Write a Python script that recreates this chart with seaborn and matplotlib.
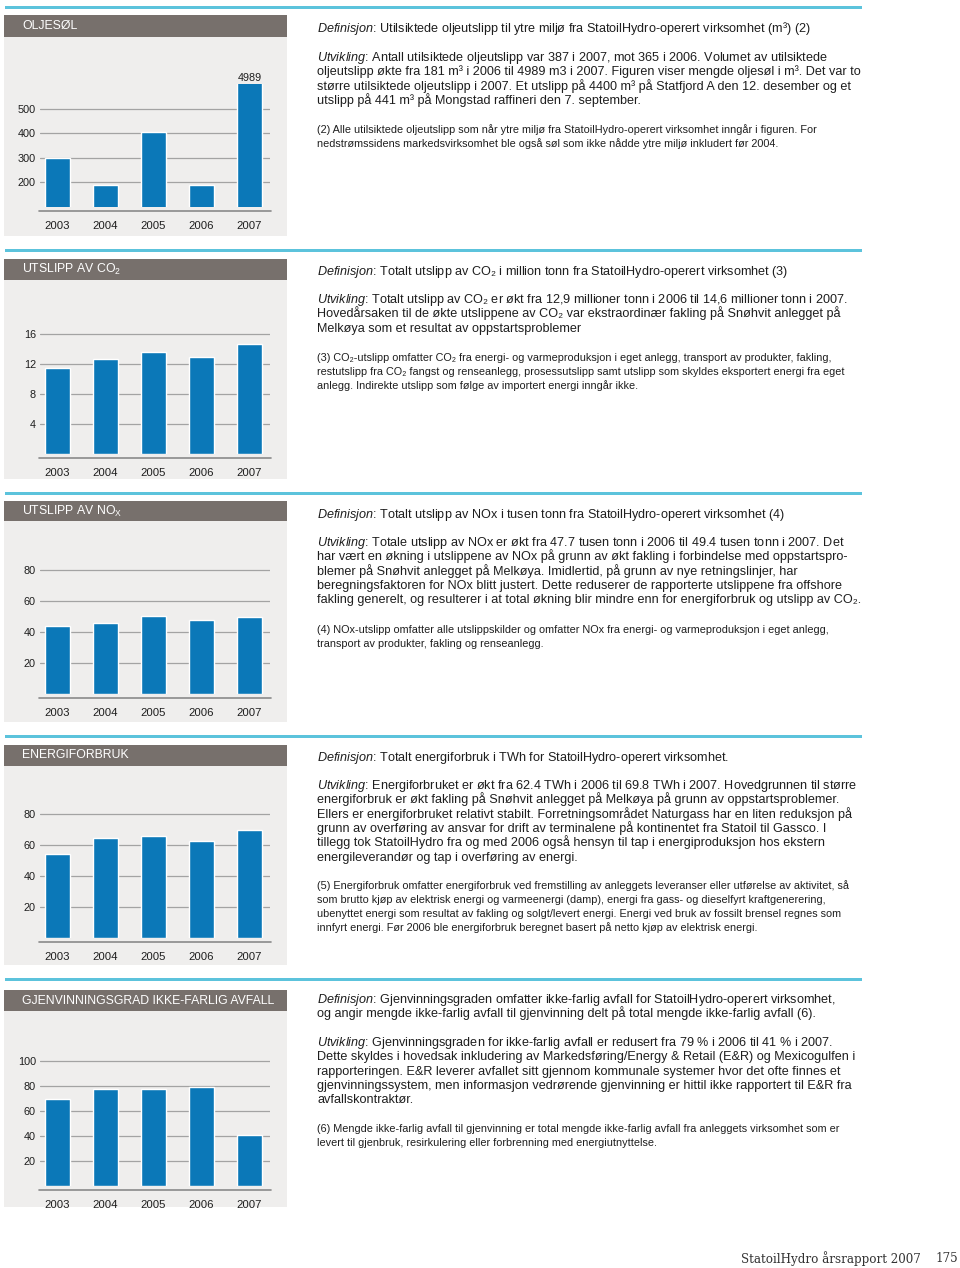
import matplotlib
matplotlib.use("Agg")
import matplotlib.pyplot as plt
from matplotlib.patches import Rectangle
from matplotlib.transforms import offset_copy
import seaborn as sns

# data
years = ["2003", "2004", "2005", "2006", "2007"]
oljesol = [300, 188, 403, 190, 4989]        # m3, 2007 is cut off at the top
co2 = [11.4, 12.6, 13.5, 12.9, 14.6]        # mill. tonn
nox = [44.0, 45.8, 50.3, 47.7, 49.4]        # tusen tonn
energi = [54.2, 64.5, 65.6, 62.4, 69.8]     # TWh
avfall = [69.5, 77.5, 77.5, 79.0, 41.0]     # %

titles = ["OLJESØL", "UTSLIPP AV CO$_2$", r"UTSLIPP AV NO$_\mathrm{X}$",
          "ENERGIFORBRUK", "GJENVINNINGSGRAD IKKE-FARLIG AVFALL"]

definisjon = [
    [r"$\mathit{Definisjon}$: Utilsiktede oljeutslipp til ytre miljø fra StatoilHydro-operert virksomhet (m³) (2)"],
    [r"$\mathit{Definisjon}$: Totalt utslipp av CO₂ i million tonn fra StatoilHydro-operert virksomhet (3)"],
    [r"$\mathit{Definisjon}$: Totalt utslipp av NOx i tusen tonn fra StatoilHydro-operert virksomhet (4)"],
    [r"$\mathit{Definisjon}$: Totalt energiforbruk i TWh for StatoilHydro-operert virksomhet."],
    [r"$\mathit{Definisjon}$: Gjenvinningsgraden omfatter ikke-farlig avfall for StatoilHydro-operert virksomhet,",
     "og angir mengde ikke-farlig avfall til gjenvinning delt på total mengde ikke-farlig avfall (6)."],
]

utvikling = [
    [r"$\mathit{Utvikling}$: Antall utilsiktede oljeutslipp var 387 i 2007, mot 365 i 2006. Volumet av utilsiktede",
     "oljeutslipp økte fra 181 m³ i 2006 til 4989 m3 i 2007. Figuren viser mengde oljesøl i m³. Det var to",
     "større utilsiktede oljeutslipp i 2007. Et utslipp på 4400 m³ på Statfjord A den 12. desember og et",
     "utslipp på 441 m³ på Mongstad raffineri den 7. september."],
    [r"$\mathit{Utvikling}$: Totalt utslipp av CO₂ er økt fra 12,9 millioner tonn i 2006 til 14,6 millioner tonn i 2007.",
     "Hovedårsaken til de økte utslippene av CO₂ var ekstraordinær fakling på Snøhvit anlegget på",
     "Melkøya som et resultat av oppstartsproblemer"],
    [r"$\mathit{Utvikling}$: Totale utslipp av NOx er økt fra 47.7 tusen tonn i 2006 til 49.4 tusen tonn i 2007. Det",
     "har vært en økning i utslippene av NOx på grunn av økt fakling i forbindelse med oppstartspro-",
     "blemer på Snøhvit anlegget på Melkøya. Imidlertid, på grunn av nye retningslinjer, har",
     "beregningsfaktoren for NOx blitt justert. Dette reduserer de rapporterte utslippene fra offshore",
     "fakling generelt, og resulterer i at total økning blir mindre enn for energiforbruk og utslipp av CO₂."],
    [r"$\mathit{Utvikling}$: Energiforbruket er økt fra 62.4 TWh i 2006 til 69.8 TWh i 2007. Hovedgrunnen til større",
     "energiforbruk er økt fakling på Snøhvit anlegget på Melkøya på grunn av oppstartsproblemer.",
     "Ellers er energiforbruket relativt stabilt. Forretningsområdet Naturgass har en liten reduksjon på",
     "grunn av overføring av ansvar for drift av terminalene på kontinentet fra Statoil til Gassco. I",
     "tillegg tok StatoilHydro fra og med 2006 også hensyn til tap i energiproduksjon hos ekstern",
     "energileverandør og tap i overføring av energi."],
    [r"$\mathit{Utvikling}$: Gjenvinningsgraden for ikke-farlig avfall er redusert fra 79 % i 2006 til 41 % i 2007.",
     "Dette skyldes i hovedsak inkludering av Markedsføring/Energy & Retail (E&R) og Mexicogulfen i",
     "rapporteringen. E&R leverer avfallet sitt gjennom kommunale systemer hvor det ofte finnes et",
     "gjenvinningssystem, men informasjon vedrørende gjenvinning er hittil ikke rapportert til E&R fra",
     "avfallskontraktør."],
]

fotnoter = [
    ["(2) Alle utilsiktede oljeutslipp som når ytre miljø fra StatoilHydro-operert virksomhet inngår i figuren. For",
     "nedstrømssidens markedsvirksomhet ble også søl som ikke nådde ytre miljø inkludert før 2004."],
    ["(3) CO₂-utslipp omfatter CO₂ fra energi- og varmeproduksjon i eget anlegg, transport av produkter, fakling,",
     "restutslipp fra CO₂ fangst og renseanlegg, prosessutslipp samt utslipp som skyldes eksportert energi fra eget",
     "anlegg. Indirekte utslipp som følge av importert energi inngår ikke."],
    ["(4) NOx-utslipp omfatter alle utslippskilder og omfatter NOx fra energi- og varmeproduksjon i eget anlegg,",
     "transport av produkter, fakling og renseanlegg."],
    ["(5) Energiforbruk omfatter energiforbruk ved fremstilling av anleggets leveranser eller utførelse av aktivitet, så",
     "som brutto kjøp av elektrisk energi og varmeenergi (damp), energi fra gass- og dieselfyrt kraftgenerering,",
     "ubenyttet energi som resultat av fakling og solgt/levert energi. Energi ved bruk av fossilt brensel regnes som",
     "innfyrt energi. Før 2006 ble energiforbruk beregnet basert på netto kjøp av elektrisk energi."],
    ["(6) Mengde ikke-farlig avfall til gjenvinning er total mengde ikke-farlig avfall fra anleggets virksomhet som er",
     "levert til gjenbruk, resirkulering eller forbrenning med energiutnyttelse."],
]

series = [oljesol, co2, nox, energi, avfall]
ylims = [(100, 600), (0, 17), (0, 85), (0, 85), (0, 105)]
yticks = [[200, 300, 400, 500], [4, 8, 12, 16], [20, 40, 60, 80],
          [20, 40, 60, 80], [20, 40, 60, 80, 100]]

# page layout in pixels
rows = [
    dict(line=7, head=(15, 37), bottom=236, ax=(84, 207), ydef=28, yutv=57, yfoot=129),
    dict(line=250, head=(259, 280), bottom=479, ax=(326, 454), ydef=271, yutv=299, yfoot=357),
    dict(line=493, head=(501, 521), bottom=722, ax=(562, 694), ydef=514, yutv=542, yfoot=629),
    dict(line=736, head=(745, 766), bottom=965, ax=(806, 938), ydef=757, yutv=785, yfoot=885),
    dict(line=979, head=(990, 1011), bottom=1207, ax=(1055, 1186), ydef=999, yutv=1042, yfoot=1128),
]

BLUE = "#0b78b8"
CYAN = "#5cc3dc"
HEAD = "#77706c"
PANEL = "#efeeed"
GRID = "#a3a3a3"
TXT = "#1e1e1e"

sns.set_style("white")
plt.rcParams["font.family"] = ["Liberation Sans", "DejaVu Sans"]
plt.rcParams["mathtext.fontset"] = "custom"
plt.rcParams["mathtext.rm"] = "Liberation Sans"
plt.rcParams["mathtext.it"] = "Liberation Sans:italic"

W, H = 960, 1268
fig = plt.figure(figsize=(9.6, 12.68), dpi=100)


def box(x0, y0, x1, y1, color):
    fig.add_artist(Rectangle((x0 / W, 1 - y1 / H), (x1 - x0) / W, (y1 - y0) / H,
                             transform=fig.transFigure, color=color, lw=0, zorder=0))


def lines(texts, x, y, size, step=14.3):
    shift = offset_copy(fig.transFigure, fig=fig, y=-size * 0.33, units="points")
    for i, t in enumerate(texts):
        fig.text(x / W, 1 - (y + i * step) / H, t, fontsize=size, color=TXT,
                 va="baseline", ha="left", transform=shift)


for i, r in enumerate(rows):
    box(5, r["line"] - 1.5, 862, r["line"] + 1.5, CYAN)
    box(4, r["head"][0], 287, r["head"][1], HEAD)
    box(4, r["head"][1], 287, r["bottom"], PANEL)
    fig.text(22 / W, 1 - (sum(r["head"]) / 2) / H, titles[i], color="white",
             fontsize=8.8, va="center", ha="left")

    ytop, ybot = r["ax"]
    ax = fig.add_axes([40 / W, 1 - ybot / H, 230 / W, (ybot - ytop) / H])
    ax.set_facecolor("none")
    sns.barplot(x=years, y=series[i], ax=ax, color=BLUE, saturation=1,
                width=0.52, zorder=3)
    ax.set_xlim(-0.36, 4.43)
    ax.set_ylim(*ylims[i])
    ax.set_yticks(yticks[i])
    ax.yaxis.grid(True, color=GRID, lw=0.9)
    ax.set_axisbelow(True)
    for s in ax.spines.values():
        s.set_visible(False)
    ax.tick_params(axis="y", length=0, pad=3, labelsize=7.8, labelcolor=TXT)
    ax.tick_params(axis="x", length=0, pad=10, labelsize=8.2, labelcolor=TXT)
    ax.set_xlabel("")
    ax.set_ylabel("")
    base = offset_copy(ax.transAxes, fig=fig, y=-4, units="dots")
    ax.plot([-0.005, 1.005], [0, 0], transform=base, color="#8a8a8a", lw=1.2,
            clip_on=False)

    lines(definisjon[i], 317, r["ydef"], 9.05)
    lines(utvikling[i], 317, r["yutv"], 9.05)
    lines(fotnoter[i], 317, r["yfoot"], 7.85)

# the oil bar for 2007 is cut off, its value is written on top
oil_ax = fig.axes[0]
oil_ax.annotate(str(oljesol[4]), xy=(4, ylims[0][1]), xytext=(0, 0.5),
                textcoords="offset points", ha="center", va="bottom",
                fontsize=7.8, color=TXT, annotation_clip=False)

fig.text(921 / W, 1 - 1259 / H, "StatoilHydro årsrapport 2007", family="DejaVu Serif",
         fontsize=8.6, color="#333333", ha="right", va="center")
fig.text(958 / W, 1 - 1259 / H, "175", family="DejaVu Serif",
         fontsize=8.6, color="#333333", ha="right", va="center")

fig.savefig("out.png", dpi=100, facecolor="white")
